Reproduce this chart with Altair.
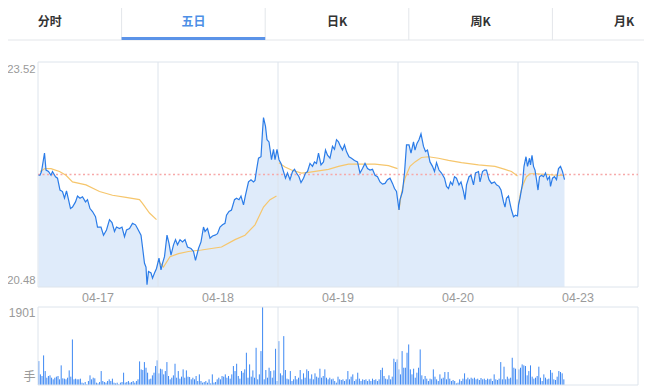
import altair as alt
import pandas as pd

# ---------------- data ----------------
TABS = ["分时", "五日", "日K", "周K", "月K"]
ACTIVE_TAB = "五日"
DAYS = ["04-17", "04-18", "04-19", "04-20", "04-23"]
DAY_CENTERS = [120, 360, 600, 840, 1080]      # minute index of each day's middle
DAY_BREAKS = [240, 480, 720, 960]              # minute index where a new day starts
PREV_CLOSE = 22.00
PRICE_MIN, PRICE_MAX = 20.48, 23.52
VOL_MAX = 1901
TOTAL_MIN = 1200
MIN_PER_DAY = 240

# (minute, price) for each day
PRICE_D1 = [(1, 21.99), (4, 21.99), (7, 22.04), (13, 22.29), (16, 22.06), (21, 22.04), (26, 21.99), (29, 22.04),
            (35, 21.97), (39, 21.95), (44, 21.79), (49, 21.77), (53, 21.68), (57, 21.78), (61, 21.66), (65, 21.54),
            (69, 21.56), (75, 21.63), (79, 21.71), (84, 21.68), (89, 21.70), (95, 21.63), (99, 21.66), (104, 21.54),
            (109, 21.50), (115, 21.43), (119, 21.29), (126, 21.29), (131, 21.18), (137, 21.25), (143, 21.39),
            (148, 21.35), (153, 21.23), (157, 21.29), (163, 21.27), (168, 21.29), (173, 21.16), (177, 21.25),
            (183, 21.27), (189, 21.34), (195, 21.32), (199, 21.27), (206, 21.18), (209, 21.02), (213, 20.80),
            (216, 20.75), (218, 20.51), (221, 20.69), (226, 20.67), (229, 20.60), (233, 20.67), (237, 20.73)]
PRICE_D2 = [(242, 20.87), (246, 20.71), (249, 20.80), (253, 20.89), (258, 21.18), (262, 21.07), (266, 20.91),
            (271, 21.05), (275, 21.12), (279, 21.05), (284, 21.12), (289, 21.09), (294, 21.12), (299, 21.02),
            (306, 21.00), (311, 20.96), (315, 20.84), (321, 21.00), (326, 21.09), (331, 21.29), (334, 21.23),
            (339, 21.27), (344, 21.14), (349, 21.17), (354, 21.18), (359, 21.20), (364, 21.29), (369, 21.32),
            (374, 21.34), (377, 21.45), (382, 21.50), (387, 21.52), (393, 21.66), (397, 21.68), (402, 21.66),
            (406, 21.71), (411, 21.59), (415, 21.72), (421, 21.90), (426, 21.93), (431, 21.90), (434, 21.92),
            (437, 22.06), (441, 22.22), (446, 22.24), (449, 22.58), (451, 22.77), (455, 22.65), (458, 22.47),
            (462, 22.44), (467, 22.20), (471, 22.34), (474, 22.20), (478, 22.34)]
PRICE_D3 = [(482, 22.20), (486, 22.15), (491, 22.04), (495, 21.95), (499, 22.02), (504, 21.93), (509, 22.04),
            (513, 22.07), (517, 22.02), (522, 21.97), (526, 21.89), (531, 21.95), (535, 22.02), (539, 22.04),
            (544, 22.15), (549, 22.11), (553, 22.17), (557, 22.15), (561, 22.29), (566, 22.13), (571, 22.17),
            (575, 22.33), (579, 22.26), (584, 22.22), (589, 22.38), (593, 22.34), (597, 22.47), (601, 22.44),
            (605, 22.38), (609, 22.33), (613, 22.40), (617, 22.31), (622, 22.24), (627, 22.22), (633, 22.19),
            (639, 22.17), (644, 22.02), (649, 22.08), (654, 22.15), (659, 22.08), (664, 22.06), (669, 22.07),
            (674, 21.99), (679, 21.97), (684, 21.90), (689, 21.87), (694, 21.88), (699, 21.93), (704, 21.95),
            (709, 21.88), (713, 21.81), (717, 21.77)]
PRICE_D4 = [(722, 21.52), (724, 21.66), (729, 21.77), (733, 22.02), (737, 22.40), (742, 22.40), (746, 22.29),
            (751, 22.44), (754, 22.33), (758, 22.42), (762, 22.47), (766, 22.55), (771, 22.38), (775, 22.31),
            (779, 22.33), (784, 22.17), (789, 22.11), (793, 22.04), (797, 22.16), (802, 22.06), (807, 22.02),
            (813, 21.95), (817, 21.84), (821, 21.81), (825, 21.90), (829, 21.86), (833, 21.97), (837, 21.95),
            (842, 21.86), (846, 21.90), (851, 21.77), (854, 21.66), (857, 21.86), (862, 21.97), (866, 21.99),
            (871, 21.86), (875, 22.02), (881, 22.04), (884, 21.90), (889, 22.04), (893, 22.06), (897, 22.06),
            (902, 21.93), (907, 21.88), (913, 21.90), (917, 21.86), (922, 21.84), (926, 21.79), (931, 21.63),
            (934, 21.56), (937, 21.68), (941, 21.71), (944, 21.61), (947, 21.52), (951, 21.43), (955, 21.45),
            (959, 21.44)]
PRICE_D5 = [(961, 21.59), (964, 21.68), (969, 21.88), (972, 22.11), (976, 22.24), (979, 22.11), (983, 22.22),
            (985, 22.13), (988, 22.26), (991, 22.11), (994, 22.06), (997, 21.93), (1000, 21.79), (1003, 21.97),
            (1007, 21.99), (1011, 21.97), (1015, 22.02), (1019, 21.93), (1023, 21.97), (1025, 21.84),
            (1029, 21.95), (1033, 21.97), (1037, 21.93), (1041, 22.08), (1045, 22.11), (1049, 22.04),
            (1053, 21.93)]

# (minute, average price) for each day
AVG_D1 = [(4, 22.04), (14, 22.08), (26, 22.08), (43, 22.04), (56, 21.99), (69, 21.90), (96, 21.86), (123, 21.77),
          (149, 21.72), (176, 21.69), (203, 21.66), (209, 21.61), (223, 21.48), (237, 21.39)]
AVG_D2 = [(242, 20.82), (251, 20.75), (264, 20.89), (281, 20.93), (301, 20.96), (327, 20.98), (367, 21.02),
          (394, 21.12), (414, 21.18), (434, 21.32), (451, 21.56), (464, 21.66), (477, 21.71)]
AVG_D3 = [(482, 22.16), (494, 22.10), (507, 22.06), (527, 22.02), (541, 22.03), (561, 22.05), (581, 22.07),
          (601, 22.11), (621, 22.14), (647, 22.14), (674, 22.14), (701, 22.12), (719, 22.08)]
AVG_D4 = [(722, 21.52), (727, 21.75), (734, 21.95), (744, 22.11), (754, 22.17), (767, 22.23), (781, 22.24),
          (801, 22.22), (821, 22.19), (847, 22.16), (881, 22.13), (914, 22.11), (934, 22.07), (947, 22.04),
          (959, 21.98)]
AVG_D5 = [(961, 21.59), (965, 21.75), (971, 21.88), (977, 21.97), (984, 22.01), (997, 22.01), (1017, 22.00),
          (1037, 21.99), (1053, 21.99)]

# volume (手), in time order within each day
VOL_D1 = [583, 259, 219, 721, 340, 178, 219, 235, 178, 138, 178, 203, 219, 138, 478, 162, 154, 138, 178, 356,
          203, 1110, 138, 154, 138, 138, 154, 57, 40, 73, 16, 97, 235, 138, 178, 162, 57, 40, 73, 340, 97, 73,
          57, 97, 138, 97, 154, 57, 40, 57, 16, 57, 73, 300, 57, 73, 97, 57, 73, 97, 57, 97, 138, 575, 380, 365,
          559, 421, 300, 138, 154, 235, 300, 462, 600]
VOL_D2 = [284, 397, 381, 259, 340, 559, 219, 138, 178, 235, 518, 178, 340, 154, 203, 381, 178, 356, 203, 194,
          138, 178, 138, 219, 97, 259, 97, 57, 73, 97, 57, 138, 40, 259, 57, 73, 138, 178, 138, 219, 203, 259,
          178, 219, 154, 259, 462, 340, 518, 219, 154, 340, 300, 381, 786, 178, 502, 203, 356, 178, 907, 138,
          259, 826, 1901, 138, 365, 178, 421, 340, 178, 356, 883, 97]
VOL_D3 = [1069, 284, 235, 1191, 365, 154, 138, 340, 97, 138, 219, 138, 178, 365, 138, 284, 178, 381, 340, 154,
          259, 138, 284, 203, 178, 397, 178, 219, 381, 178, 138, 178, 138, 154, 97, 57, 203, 138, 122, 138, 97,
          138, 340, 138, 203, 259, 97, 138, 300, 154, 97, 138, 122, 138, 97, 138, 97, 154, 122, 138, 97, 138,
          365, 421, 219, 154, 138, 235, 138, 203, 640, 559, 624]
VOL_D4 = [381, 259, 826, 421, 421, 786, 988, 381, 259, 397, 178, 300, 421, 867, 235, 138, 219, 154, 97, 154,
          138, 381, 203, 138, 97, 259, 154, 178, 316, 138, 316, 154, 97, 122, 97, 40, 57, 138, 97, 154, 284,
          138, 178, 138, 178, 154, 178, 138, 154, 122, 170, 138, 154, 122, 154, 138, 154, 97, 259, 138, 122,
          154, 559, 138, 446, 138, 203, 154, 178, 664, 421, 397, 138]
VOL_D5 = [381, 421, 502, 478, 462, 235, 340, 478, 203, 154, 178, 219, 446, 178, 97, 259, 178, 138, 154, 365,
          300, 138, 122, 203, 340, 316, 284, 138]
VOL_STEP_D5 = 240 / 72   # minutes per volume bar on the unfinished last day

# ---------------- tables ----------------
price_rows, avg_rows = [], []
for d, (pdat, adat) in enumerate(zip([PRICE_D1, PRICE_D2, PRICE_D3, PRICE_D4, PRICE_D5],
                                     [AVG_D1, AVG_D2, AVG_D3, AVG_D4, AVG_D5])):
    price_rows += [{"minute": m, "price": p, "day": DAYS[d]} for m, p in pdat]
    avg_rows += [{"minute": m, "avg": a, "day": DAYS[d]} for m, a in adat]
price_df = pd.DataFrame(price_rows)
avg_df = pd.DataFrame(avg_rows)

vol_rows = []
for d, vols in enumerate([VOL_D1, VOL_D2, VOL_D3, VOL_D4, VOL_D5]):
    step = VOL_STEP_D5 if d == 4 else MIN_PER_DAY / len(vols)
    for i, v in enumerate(vols):
        vol_rows.append({"minute": d * MIN_PER_DAY + (i + 0.5) * step, "vol": v})
vol_df = pd.DataFrame(vol_rows)

breaks_df = pd.DataFrame({"minute": DAY_BREAKS})
days_df = pd.DataFrame({"minute": DAY_CENTERS, "label": DAYS})
tabs_df = pd.DataFrame({"tab": TABS, "active": [t == ACTIVE_TAB for t in TABS]})
frame_df = pd.DataFrame({"x0": [0], "x1": [TOTAL_MIN], "p0": [PRICE_MIN], "p1": [PRICE_MAX],
                         "v0": [0], "v1": [VOL_MAX]})

# ---------------- scales & styles ----------------
X = alt.Scale(domain=[0, TOTAL_MIN], range=[30, 630], nice=False, zero=False)
YP = alt.Scale(domain=[PRICE_MIN, PRICE_MAX], range=[279, 54], nice=False, zero=False)
YV = alt.Scale(domain=[0, VOL_MAX], range=[377, 299], nice=False, zero=False)
XT = alt.Scale(domain=TABS, range=[-30, 688], paddingInner=0, paddingOuter=0)

GRID = "#dde4ec"
LABEL = "#9a9a9a"
FONT = "Liberation Sans"
CJK = "Noto Sans CJK SC"
LBL_X = 27.5

xm = alt.X("minute:Q", scale=X, axis=None)

area = alt.Chart(price_df).mark_area(color="#dfebfa", opacity=1).encode(
    x=xm, y=alt.Y("price:Q", scale=YP, axis=None), y2=alt.datum(PRICE_MIN))

price_sep = alt.Chart(breaks_df).mark_rule(color=GRID, strokeWidth=1).encode(
    x=xm, y=alt.datum(PRICE_MIN, scale=YP, axis=None), y2=alt.datum(PRICE_MAX))

price_frame = alt.Chart(frame_df).mark_rect(fill="transparent", stroke=GRID, strokeWidth=1).encode(
    x=alt.X("x0:Q", scale=X, axis=None), x2="x1:Q",
    y=alt.Y("p0:Q", scale=YP, axis=None), y2="p1:Q")

prev_close = alt.Chart(frame_df).mark_rule(color="#f7a9a9", strokeWidth=1.6, strokeDash=[2, 2.5]).encode(
    x=alt.X("x0:Q", scale=X, axis=None), x2="x1:Q", y=alt.datum(PREV_CLOSE, scale=YP, axis=None))

price_line = alt.Chart(price_df).mark_line(color="#2b7ce8", strokeWidth=1.2).encode(
    x=xm, y=alt.Y("price:Q", scale=YP, axis=None))

avg_line = alt.Chart(avg_df).mark_line(color="#f6c66c", strokeWidth=1.2).encode(
    x=xm, y=alt.Y("avg:Q", scale=YP, axis=None), detail="day:N")

vol_bars = alt.Chart(vol_df).mark_rule(color="#3d88f3", strokeWidth=1).encode(
    x=xm, y=alt.Y("vol:Q", scale=YV, axis=None), y2=alt.datum(0))

vol_sep = alt.Chart(breaks_df).mark_rule(color=GRID, strokeWidth=1).encode(
    x=xm, y=alt.datum(0, scale=YV, axis=None), y2=alt.datum(VOL_MAX))

vol_frame = alt.Chart(frame_df).mark_rect(fill="transparent", stroke=GRID, strokeWidth=1).encode(
    x=alt.X("x0:Q", scale=X, axis=None), x2="x1:Q",
    y=alt.Y("v0:Q", scale=YV, axis=None), y2="v1:Q")

day_labels = alt.Chart(days_df).mark_text(font=FONT, fontSize=12.5, color=LABEL, baseline="middle").encode(
    x=xm, y=alt.value(290), text="label:N")

p_top = alt.Chart(frame_df).mark_text(font=FONT, fontSize=11.3, color=LABEL, align="right",
                                      baseline="top", dy=2).encode(
    x=alt.value(LBL_X), y=alt.Y("p1:Q", scale=YP, axis=None), text=alt.Text("p1:Q", format=".2f"))
p_bot = alt.Chart(frame_df).mark_text(font=FONT, fontSize=11.3, color=LABEL, align="right",
                                      baseline="bottom", dy=-1).encode(
    x=alt.value(LBL_X), y=alt.Y("p0:Q", scale=YP, axis=None), text=alt.Text("p0:Q", format=".2f"))
v_top = alt.Chart(frame_df).mark_text(font=FONT, fontSize=12, color=LABEL, align="right",
                                      baseline="top", dy=1).encode(
    x=alt.value(LBL_X), y=alt.Y("v1:Q", scale=YV, axis=None), text=alt.Text("v1:Q", format="d"))
v_unit = alt.Chart(frame_df).mark_text(font=CJK, fontSize=12, color=LABEL, align="right",
                                       baseline="bottom", dy=-1).encode(
    x=alt.value(LBL_X), y=alt.Y("v0:Q", scale=YV, axis=None), text=alt.value("手"))

tab_text = alt.Chart(tabs_df).mark_text(font=CJK, fontSize=12, fontWeight="bold", baseline="middle").encode(
    x=alt.X("tab:N", scale=XT, axis=None, sort=TABS), y=alt.value(14), text="tab:N",
    color=alt.condition("datum.active", alt.value("#4d8fe6"), alt.value("#333333")))

tab_div = alt.Chart(tabs_df).mark_rule(color="#e3e6ea", strokeWidth=1).encode(
    x=alt.X("tab:N", scale=XT, axis=None, sort=TABS, bandPosition=0), y=alt.value(0), y2=alt.value(32))

tab_bottom = alt.Chart(frame_df).mark_rule(color="#e3e6ea", strokeWidth=1).encode(
    x=alt.value(0), x2=alt.value(636), y=alt.value(32))

tab_under = alt.Chart(tabs_df).transform_filter("datum.active").mark_bar(color="#5b93e8").encode(
    x=alt.X("tab:N", scale=XT, axis=None, sort=TABS), y=alt.value(29), y2=alt.value(32))

chart = alt.layer(
    area, price_sep, price_frame, prev_close, avg_line, price_line,
    vol_bars, vol_sep, vol_frame,
    day_labels, p_top, p_bot, v_top, v_unit,
    tab_bottom, tab_div, tab_under, tab_text,
).resolve_scale(x="independent", y="independent").properties(
    width=636, height=378, padding=0, autosize=alt.AutoSizeParams(type="none")
).configure_view(strokeWidth=0)

chart.save("out.html", embed_options={"renderer": "svg", "actions": False})
